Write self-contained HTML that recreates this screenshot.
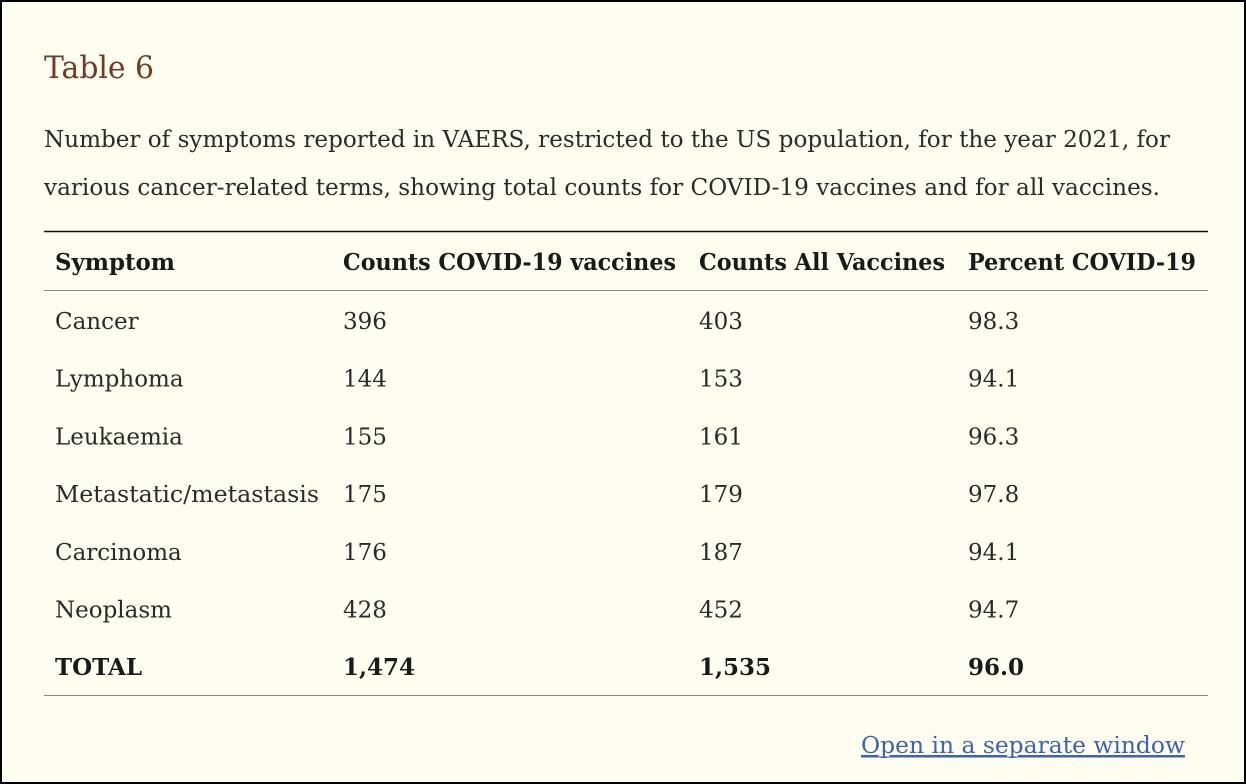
<!DOCTYPE html>
<html><head><meta charset="utf-8"><style>
html,body{margin:0;padding:0;background:#fffdf0;}
svg{display:block;}
text{font-family:"DejaVu Serif","Liberation Serif",serif;fill:#2a2a2a;}
.b{font-weight:bold;fill:#1a1a1a;}
</style></head><body>
<svg width="1246" height="784" viewBox="0 0 1246 784">
<rect x="1" y="1" width="1244" height="782" fill="#fffdf0" stroke="#000" stroke-width="2"/>
<text x="44" y="78" font-size="31" style="fill:#6e3b25" textLength="110" lengthAdjust="spacingAndGlyphs">Table 6</text>
<text x="44" y="147" font-size="23" textLength="1126" lengthAdjust="spacingAndGlyphs">Number of symptoms reported in VAERS, restricted to the US population, for the year 2021, for</text>
<text x="44" y="195" font-size="23" textLength="1116" lengthAdjust="spacingAndGlyphs">various cancer-related terms, showing total counts for COVID-19 vaccines and for all vaccines.</text>
<line x1="44" y1="231.5" x2="1208" y2="231.5" stroke="#111" stroke-width="1.5"/>
<line x1="44" y1="290.5" x2="1208" y2="290.5" stroke="#888" stroke-width="1"/>
<line x1="44" y1="695.5" x2="1208" y2="695.5" stroke="#888" stroke-width="1"/>
<g font-size="23">
<text class="b" x="55" y="270" textLength="120" lengthAdjust="spacingAndGlyphs">Symptom</text>
<text class="b" x="343" y="270" textLength="333" lengthAdjust="spacingAndGlyphs">Counts COVID-19 vaccines</text>
<text class="b" x="699" y="270" textLength="246" lengthAdjust="spacingAndGlyphs">Counts All Vaccines</text>
<text class="b" x="968" y="270" textLength="228" lengthAdjust="spacingAndGlyphs">Percent COVID-19</text>
</g>
<g id="rows" font-size="23"></g>
<text x="861" y="753" font-size="23" style="fill:#3d64a8" text-decoration="underline" textLength="324" lengthAdjust="spacingAndGlyphs">Open in a separate window</text>
<line x1="861" y1="757" x2="1185" y2="757" stroke="#3d64a8" stroke-width="1"/>
</svg>
<script>
const symptoms=["Cancer","Lymphoma","Leukaemia","Metastatic/metastasis","Carcinoma","Neoplasm","TOTAL"];
const covidCounts=["396","144","155","175","176","428","1,474"];
const allCounts=["403","153","161","179","187","452","1,535"];
const percents=["98.3","94.1","96.3","97.8","94.1","94.7","96.0"];
const g=document.getElementById('rows');
const ns="http://www.w3.org/2000/svg";
const colX=[55,343,699,968];
symptoms.forEach((s,i)=>{
  const y=329+i*57.7;
  const vals=[s,covidCounts[i],allCounts[i],percents[i]];
  const names=['symptom','covid-count','all-count','percent'];
  vals.forEach((v,j)=>{
    const t=document.createElementNS(ns,'text');
    t.setAttribute('x',colX[j]);t.setAttribute('y',y);
    if(i===symptoms.length-1)t.setAttribute('class','b');
    if(v==="Metastatic/metastasis"){t.setAttribute('textLength','264');t.setAttribute('lengthAdjust','spacingAndGlyphs');}
    t.textContent=v;
    
    
    g.appendChild(t);
  });
});
</script>
</body></html>
